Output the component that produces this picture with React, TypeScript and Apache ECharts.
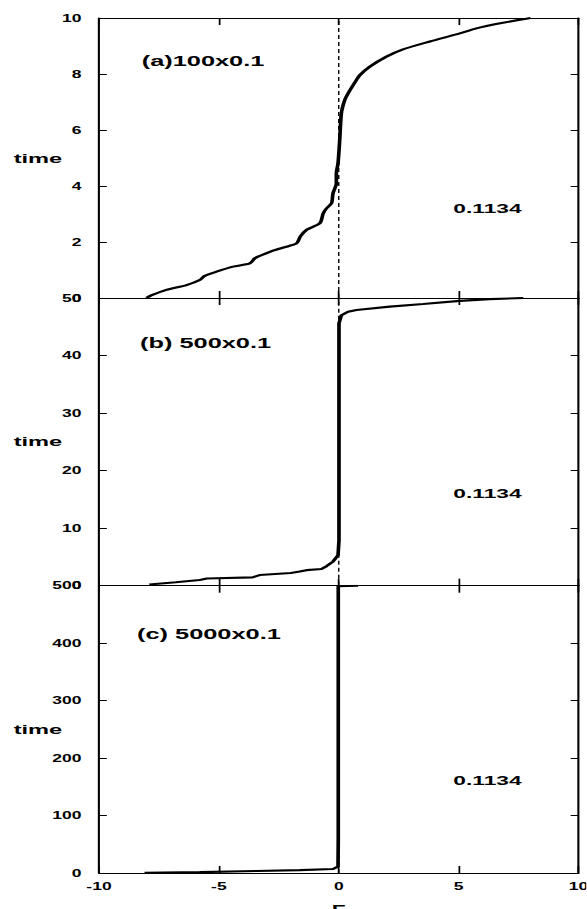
import { useEffect, useRef } from "react";
import * as echarts from "echarts";

// The figure is drawn narrow and stretched horizontally, which gives the
// wide lettering and the heavier vertical strokes of the printed figure.
const STRETCH = 1.75;
const PAGE_W = 587;
const PAGE_H = 909;
const CHART_W = PAGE_W / STRETCH;

const FONT = '"Liberation Sans", Arial, Helvetica, sans-serif';

// Shared F axis
const F_MIN = -10;
const F_MAX = 10;
const F_STEP = 5;

// Time axes, one per panel
const timeMax = [10, 50, 500];
const timeStep = [2, 10, 100];

const panelTitles = ["(a)100x0.1", "(b) 500x0.1", "(c) 5000x0.1"];
const panelValue = "0.1134";

// Trajectories (F, time)
const curveA: [number, number][] = [
  [-8.02, 0], [-7.8, 0.1], [-7.19, 0.29], [-6.35, 0.46], [-5.8, 0.64],
  [-5.59, 0.79], [-5.1, 0.94], [-4.41, 1.12], [-3.71, 1.24], [-3.5, 1.42],
  [-3.3, 1.5], [-2.74, 1.69], [-2.18, 1.83], [-1.76, 1.95], [-1.6, 2.2],
  [-1.35, 2.43], [-0.79, 2.67], [-0.65, 3.02], [-0.51, 3.2], [-0.3, 3.38],
  [-0.24, 3.74], [-0.1, 4.1], [-0.1, 4.45], [-0.03, 4.81], [0.04, 5.64],
  [0.11, 6.6], [0.25, 7.07], [0.39, 7.31], [0.74, 7.79], [0.88, 7.96],
  [1.29, 8.26], [1.99, 8.62], [2.68, 8.88], [3.8, 9.16], [5.05, 9.45],
  [5.74, 9.63], [6.85, 9.83], [8.0, 10],
];

const curveB: [number, number][] = [
  [-7.9, 0.2], [-6.8, 0.6], [-5.8, 1.0], [-5.5, 1.25], [-3.6, 1.45],
  [-3.3, 1.85], [-2.0, 2.2], [-1.63, 2.45], [-1.35, 2.7], [-0.72, 2.9],
  [-0.51, 3.4], [-0.24, 4.2], [-0.03, 5.3], [0.01, 7.9], [0.01, 45.6],
  [0.11, 47.0], [0.39, 47.6], [0.74, 47.9], [2.13, 48.5], [3.52, 48.95],
  [5.05, 49.5], [6.3, 49.8], [7.7, 50],
];

const curveC: [number, number][] = [
  [-8.1, 0.5], [-5.8, 1.5], [-3.43, 3.5], [-1.63, 5], [-0.24, 7],
  [-0.03, 11], [-0.02, 60], [-0.02, 499], [0.8, 500],
];

const curves = [curveA, curveB, curveC];

// Panel frames in page pixels (vertical) / chart pixels (horizontal)
const PLOT_LEFT = 99 / STRETCH;
const PLOT_WIDTH = (578.5 - 99) / STRETCH;
const panelTop = [18, 298, 585.7];
const panelHeight = [280, 287.7, 287.3];

export default function App() {
  const ref = useRef<HTMLDivElement>(null);

  useEffect(() => {
    if (!ref.current) return;
    const chart = echarts.init(ref.current, null, {
      renderer: "svg",
      width: CHART_W,
      height: PAGE_H,
    });

    const black = "#000";
    const tickFont = { color: black, fontFamily: FONT, fontWeight: "bold" as const, fontSize: 10 };

    const grids = panelTop.map((top, i) => ({
      left: PLOT_LEFT,
      top,
      width: PLOT_WIDTH,
      height: panelHeight[i],
      outerBoundsMode: "none",
      containLabel: false,
    }));

    const xAxes: any[] = [];
    const yAxes: any[] = [];
    panelTop.forEach((_, i) => {
      const isLast = i === panelTop.length - 1;
      (["bottom", "top"] as const).forEach((position) => {
        xAxes.push({
          type: "value",
          gridIndex: i,
          position,
          min: F_MIN,
          max: F_MAX,
          interval: F_STEP,
          axisLine: { show: true, onZero: false, lineStyle: { color: black, width: 1.2 } },
          axisTick: { show: true, inside: true, length: 7, lineStyle: { color: black, width: 1 } },
          axisLabel: {
            show: isLast && position === "bottom",
            margin: 8.5,
            showMinLabel: true,
            showMaxLabel: true,
            ...tickFont,
          },
          splitLine: { show: false },
          name: isLast && position === "bottom" ? "F" : "",
          nameLocation: "middle",
          nameGap: 30,
          nameMoveOverlap: false,
          nameTextStyle: { color: black, fontFamily: FONT, fontWeight: "bold", fontSize: 13 },
        });
      });
      (["left", "right"] as const).forEach((position) => {
        yAxes.push({
          type: "value",
          gridIndex: i,
          position,
          min: 0,
          max: timeMax[i],
          interval: timeStep[i],
          axisLine: { show: true, onZero: false, lineStyle: { color: black, width: 1.2 } },
          axisTick: { show: true, inside: true, length: 4.5, lineStyle: { color: black, width: 1 } },
          axisLabel: {
            show: position === "left",
            margin: 10,
            showMinLabel: true,
            showMaxLabel: true,
            ...tickFont,
          },
          splitLine: { show: false },
          name: position === "left" ? "time" : "",
          nameLocation: "middle",
          nameRotate: 0,
          nameGap: 21,
          nameMoveOverlap: false,
          nameTextStyle: {
            color: black,
            fontFamily: FONT,
            fontWeight: "bold",
            fontSize: 13.5,
            padding: [0, 0, 12, 0],
          },
        });
      });
    });

    const series: any[] = [];
    curves.forEach((data, i) => {
      // dashed reference line at F = 0
      series.push({
        type: "line",
        xAxisIndex: i * 2,
        yAxisIndex: i * 2,
        data: [[0, 0], [0, timeMax[i]]],
        showSymbol: false,
        silent: true,
        lineStyle: { color: black, width: 0.8, type: [4, 3] },
        z: 2,
      });
      series.push({
        type: "line",
        xAxisIndex: i * 2,
        yAxisIndex: i * 2,
        data,
        showSymbol: false,
        smooth: i === 0 ? 0.25 : false,
        lineStyle: { color: black, width: 2.1 },
        z: 3,
      });
    });

    const titleOffset = [42.7, 45, 48];
    const titleX = [141.7, 140, 137];
    const valueOffset = [90, 92.7, 93];

    const graphics: any[] = [];
    panelTop.forEach((top, i) => {
      graphics.push({
        type: "text",
        x: titleX[i] / STRETCH,
        y: top + titleOffset[i],
        style: {
          text: panelTitles[i],
          fill: black,
          fontFamily: FONT,
          fontWeight: "bold",
          fontSize: 14.5,
          align: "left",
          verticalAlign: "middle",
        },
      });
      graphics.push({
        type: "text",
        x: 487.5 / STRETCH,
        y: top + panelHeight[i] - valueOffset[i],
        style: {
          text: panelValue,
          fill: black,
          fontFamily: FONT,
          fontWeight: "bold",
          fontSize: 13,
          align: "center",
          verticalAlign: "middle",
        },
      });
    });

    chart.setOption({
      animation: false,
      backgroundColor: "#fff",
      grid: grids,
      xAxis: xAxes,
      yAxis: yAxes,
      series,
      graphic: graphics,
    });

    return () => chart.dispose();
  }, []);

  return (
    <div
      style={{
        position: "fixed",
        left: 0,
        top: 0,
        width: PAGE_W,
        height: PAGE_H,
        overflow: "hidden",
        background: "#fff",
      }}
    >
      <div
        ref={ref}
        style={{
          width: CHART_W,
          height: PAGE_H,
          transform: `scaleX(${STRETCH})`,
          transformOrigin: "0 0",
        }}
      />
    </div>
  );
}
